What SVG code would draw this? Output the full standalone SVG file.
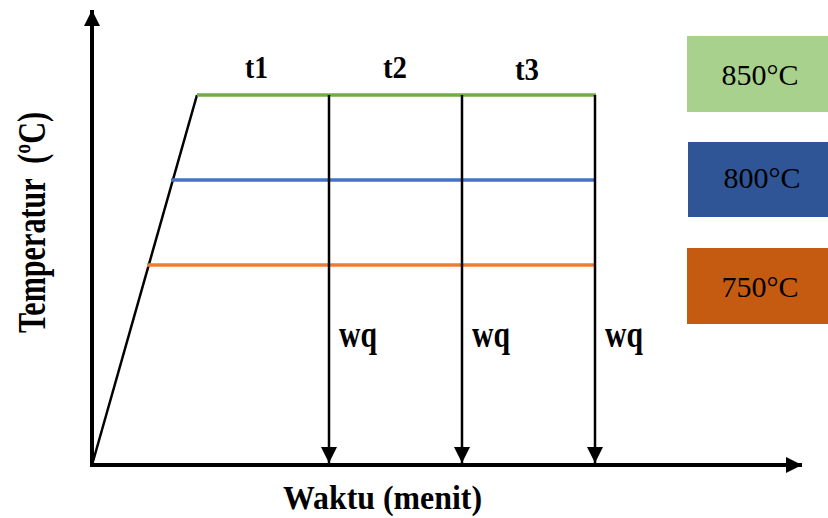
<svg xmlns="http://www.w3.org/2000/svg" width="828" height="518" viewBox="0 0 828 518">
<style>
.lbl{font-family:"Liberation Serif","Times New Roman",serif;font-weight:bold;fill:#000}
.box{font-family:"Liberation Serif","Times New Roman",serif;font-size:30px;fill:#000;text-anchor:middle}
.ax{stroke:#000;stroke-width:4;fill:none}
.qa{stroke:#000;stroke-width:2.5;fill:none}
</style>
<defs>
<marker id="ahBig" markerUnits="userSpaceOnUse" markerWidth="17" markerHeight="17" refX="16" refY="8" orient="auto">
<path d="M0,0 L16,8 L0,16 Z" fill="#000"/>
</marker>
<marker id="ahQ" markerUnits="userSpaceOnUse" markerWidth="18" markerHeight="18" refX="16" refY="8" orient="auto">
<path d="M0,0 L16,8 L0,16 Z" fill="#000"/>
</marker>
</defs>
<rect width="828" height="518" fill="#fff"/>
<g id="axes">
<line class="ax" x1="92" y1="467" x2="92" y2="10" marker-end="url(#ahBig)"/>
<line class="ax" x1="90" y1="465" x2="802" y2="465" marker-end="url(#ahBig)"/>
</g>
<g id="connectors">
<line x1="92" y1="465" x2="197" y2="95" stroke="#000" stroke-width="2.5"/>
<line x1="197" y1="95" x2="596" y2="95" stroke="#70ad47" stroke-width="3.5"/>
<line x1="171" y1="180" x2="596" y2="180" stroke="#4472c4" stroke-width="3.5"/>
<line x1="147" y1="265" x2="596" y2="265" stroke="#ed7d31" stroke-width="3.5"/>
<line class="qa" x1="329" y1="95" x2="329" y2="463" marker-end="url(#ahQ)"/>
<line class="qa" x1="462" y1="95" x2="462" y2="463" marker-end="url(#ahQ)"/>
<line class="qa" x1="595" y1="95" x2="595" y2="463" marker-end="url(#ahQ)"/>
</g>
<g id="time-labels">
<text class="lbl" x="245" y="78" font-size="31" textLength="23" lengthAdjust="spacingAndGlyphs">t1</text>
<text class="lbl" x="383" y="78" font-size="31" textLength="24" lengthAdjust="spacingAndGlyphs">t2</text>
<text class="lbl" x="515" y="80" font-size="31" textLength="24" lengthAdjust="spacingAndGlyphs">t3</text>
</g>
<g id="wq-labels">
<text class="lbl" x="339" y="347" font-size="38" textLength="38" lengthAdjust="spacingAndGlyphs">wq</text>
<text class="lbl" x="472" y="347" font-size="38" textLength="38" lengthAdjust="spacingAndGlyphs">wq</text>
<text class="lbl" x="605" y="347" font-size="38" textLength="38" lengthAdjust="spacingAndGlyphs">wq</text>
</g>
<g id="axis-labels">
<text class="lbl" x="283" y="509" font-size="33" textLength="199" lengthAdjust="spacingAndGlyphs">Waktu (menit)</text>
<text class="lbl" transform="translate(45,333) rotate(-90)" x="0" y="0" font-size="40" textLength="221" lengthAdjust="spacingAndGlyphs" xml:space="preserve">Temperatur  (ºC)</text>
</g>
<g id="legend-850">
<rect x="687" y="36" width="141" height="76" fill="#a9d18e"/>
<text class="box" x="760" y="85">850°C</text>
</g>
<g id="legend-800">
<rect x="688" y="142" width="140" height="75" fill="#2f5597"/>
<text class="box" x="762" y="188">800°C</text>
</g>
<g id="legend-750">
<rect x="687" y="248" width="141" height="76" fill="#c55a11"/>
<text class="box" x="760" y="297">750°C</text>
</g>
</svg>
